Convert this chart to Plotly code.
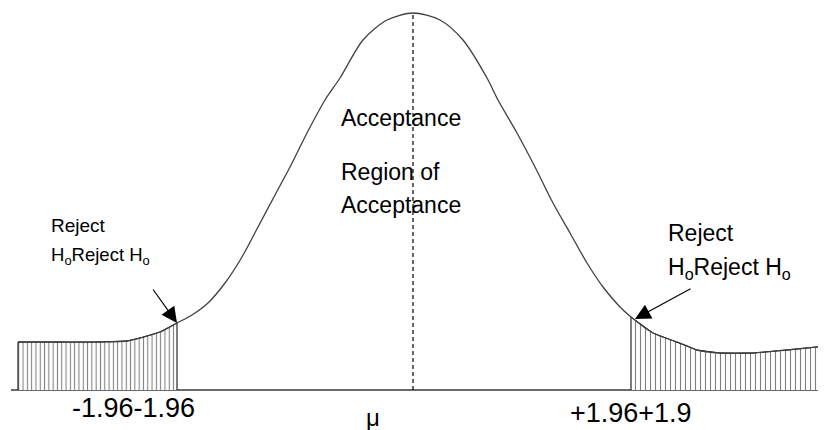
import plotly.graph_objects as go

# Curve (x position, height above the baseline)
curve_x = [18, 60, 100, 127, 140, 160, 177, 192, 208, 225, 242, 258, 275, 290, 307, 325, 340, 363, 387,
           413, 440, 463, 487, 498, 517, 535, 553, 570, 587, 603, 620, 631, 653, 680, 697, 720, 753, 787, 826]
curve_h = [48, 48, 48, 49, 52, 58, 67, 75, 87, 107, 133, 163, 195, 223, 257, 290, 312, 350, 370,
           377, 370, 350, 312, 290, 257, 223, 187, 157, 127, 103, 83, 73, 57, 47, 40, 37, 37, 40, 44]

left_cut = 177      # -1.96
right_cut = 631     # +1.96
mu_x = 413
peak_h = 377
baseline_x = [11, 826]
baseline_h = [0, 0]

FONT = "Liberation Sans"
OFF = 8  # page body margin

fig = go.Figure()

fig.add_trace(go.Scatter(x=baseline_x, y=baseline_h, mode="lines",
                         line=dict(color="#3a3a3a", width=1.5), hoverinfo="skip"))

lx = [c for c in curve_x if c <= left_cut]
lh = [h for c, h in zip(curve_x, curve_h) if c <= left_cut]
fig.add_trace(go.Scatter(x=[lx[0]] + lx + [lx[-1]], y=[0] + lh + [0], mode="lines",
                         fill="toself", fillcolor="white",
                         fillpattern=dict(shape="|", fgcolor="black", bgcolor="white",
                                          size=4.3, solidity=0.25),
                         line=dict(color="black", width=1), hoverinfo="skip"))
rx = [c for c in curve_x if c >= right_cut]
rh = [h for c, h in zip(curve_x, curve_h) if c >= right_cut]
fig.add_trace(go.Scatter(x=[rx[0]] + rx + [rx[-1]], y=[0] + rh + [0], mode="lines",
                         fill="toself", fillcolor="white",
                         fillpattern=dict(shape="|", fgcolor="black", bgcolor="white",
                                          size=5, solidity=0.22),
                         line=dict(color="black", width=1), hoverinfo="skip"))

fig.add_trace(go.Scatter(x=curve_x, y=curve_h, mode="lines",
                         line=dict(color="#404040", width=1.3, shape="spline", smoothing=0.8),
                         hoverinfo="skip"))

fig.add_trace(go.Scatter(x=[mu_x, mu_x], y=[0, peak_h], mode="lines",
                         line=dict(color="black", width=1.2, dash="4px,3px"), hoverinfo="skip"))

ann = []
def txt(x, y, s, size):
    ann.append(dict(x=x, y=y, text=s, showarrow=False, xanchor="left", yanchor="middle",
                    font=dict(family=FONT, size=size, color="black")))

txt(339, 390 - 118, "Acceptance", 23)
txt(339, 390 - 172, "Region of", 23)
txt(339, 390 - 205, "Acceptance", 23)
txt(49, 390 - 225, "Reject", 19)
txt(49, 390 - 256, "H<sub>o</sub>Reject H<sub>o</sub>", 18.5)
txt(666, 390 - 233, "Reject", 23)
txt(666, 390 - 268, "H<sub>o</sub>Reject H<sub>o</sub>", 23)
txt(70, 390 - 408, "-1.96-1.96", 27)
txt(364, 390 - 417, "μ", 24)
txt(568, 390 - 413, "+1.96+1.9", 27)

ann.append(dict(x=177, y=390 - 323, ax=152, ay=390 - 288, axref="x", ayref="y",
                showarrow=True, arrowhead=2, arrowsize=2.6, arrowwidth=1.2, arrowcolor="black",
                text=""))
ann.append(dict(x=635, y=390 - 319, ax=692, ay=390 - 288, axref="x", ayref="y",
                showarrow=True, arrowhead=2, arrowsize=2.6, arrowwidth=1.2, arrowcolor="black",
                text=""))

fig.update_layout(
    width=826 - OFF, height=430 - OFF, margin=dict(l=0, r=0, t=0, b=0),
    paper_bgcolor="white", plot_bgcolor="white", showlegend=False,
    xaxis=dict(range=[OFF, 826], visible=False, fixedrange=True),
    yaxis=dict(range=[-40, 390 - OFF], visible=False, fixedrange=True),
    annotations=ann,
)

fig.write_html("out.html")
